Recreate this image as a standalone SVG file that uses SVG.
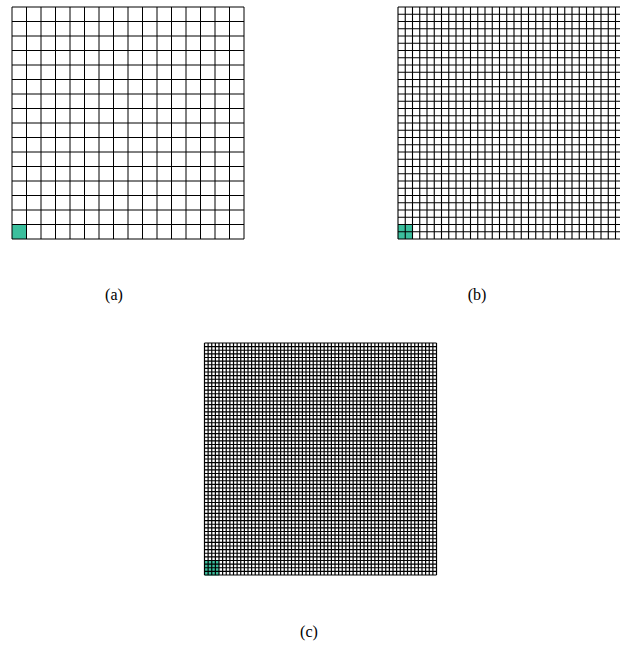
<svg xmlns="http://www.w3.org/2000/svg" width="620" height="646" viewBox="0 0 620 646">
<style>
.grid{fill:none;stroke:#000;stroke-width:1}
.gb{stroke-width:1.1}
.gc{stroke-width:1.2}
.cell{fill:#3bbf9d}
.lbl{font-family:"Liberation Serif","Times New Roman",serif;font-size:16px;fill:#000;text-anchor:middle}
</style>
<rect width="620" height="646" fill="#fff"/>
<g id="panel-a">
<rect class="cell" x="12" y="224.5" width="14.5" height="14.5"/>
<path class="grid" d="M12 7v232
m14.5 -232v232m14.5 -232v232m14.5 -232v232m14.5 -232v232m14.5 -232v232m14.5 -232v232m14.5 -232v232m14.5 -232v232
m14.5 -232v232m14.5 -232v232m14.5 -232v232m14.5 -232v232m14.5 -232v232m14.5 -232v232m14.5 -232v232m14.5 -232v232"/>
<path class="grid" d="M12 7h232
m-232 14.5h232m-232 14.5h232m-232 14.5h232m-232 14.5h232m-232 14.5h232m-232 14.5h232m-232 14.5h232m-232 14.5h232
m-232 14.5h232m-232 14.5h232m-232 14.5h232m-232 14.5h232m-232 14.5h232m-232 14.5h232m-232 14.5h232m-232 14.5h232"/>
<text class="lbl" x="114" y="300">(a)</text>
</g>
<g id="panel-b">
<rect class="cell" x="398" y="224.5" width="14.5" height="14.5"/>
<path class="grid gb" d="M398 7v232
m7.25 -232v232m7.25 -232v232m7.25 -232v232m7.25 -232v232m7.25 -232v232m7.25 -232v232m7.25 -232v232m7.25 -232v232
m7.25 -232v232m7.25 -232v232m7.25 -232v232m7.25 -232v232m7.25 -232v232m7.25 -232v232m7.25 -232v232m7.25 -232v232
m7.25 -232v232m7.25 -232v232m7.25 -232v232m7.25 -232v232m7.25 -232v232m7.25 -232v232m7.25 -232v232m7.25 -232v232
m7.25 -232v232m7.25 -232v232m7.25 -232v232m7.25 -232v232m7.25 -232v232m7.25 -232v232m7.25 -232v232m7.25 -232v232"/>
<path class="grid gb" d="M398 7h232
m-232 7.25h232m-232 7.25h232m-232 7.25h232m-232 7.25h232m-232 7.25h232m-232 7.25h232m-232 7.25h232m-232 7.25h232
m-232 7.25h232m-232 7.25h232m-232 7.25h232m-232 7.25h232m-232 7.25h232m-232 7.25h232m-232 7.25h232m-232 7.25h232
m-232 7.25h232m-232 7.25h232m-232 7.25h232m-232 7.25h232m-232 7.25h232m-232 7.25h232m-232 7.25h232m-232 7.25h232
m-232 7.25h232m-232 7.25h232m-232 7.25h232m-232 7.25h232m-232 7.25h232m-232 7.25h232m-232 7.25h232m-232 7.25h232"/>
<text class="lbl" x="477" y="300">(b)</text>
</g>
<g id="panel-c">
<rect class="cell" x="204.5" y="561" width="14.5" height="14.5"/>
<path class="grid gc" d="M204.5 343v232
m3.625 -232v232m3.625 -232v232m3.625 -232v232m3.625 -232v232m3.625 -232v232m3.625 -232v232m3.625 -232v232m3.625 -232v232
m3.625 -232v232m3.625 -232v232m3.625 -232v232m3.625 -232v232m3.625 -232v232m3.625 -232v232m3.625 -232v232m3.625 -232v232
m3.625 -232v232m3.625 -232v232m3.625 -232v232m3.625 -232v232m3.625 -232v232m3.625 -232v232m3.625 -232v232m3.625 -232v232
m3.625 -232v232m3.625 -232v232m3.625 -232v232m3.625 -232v232m3.625 -232v232m3.625 -232v232m3.625 -232v232m3.625 -232v232
m3.625 -232v232m3.625 -232v232m3.625 -232v232m3.625 -232v232m3.625 -232v232m3.625 -232v232m3.625 -232v232m3.625 -232v232
m3.625 -232v232m3.625 -232v232m3.625 -232v232m3.625 -232v232m3.625 -232v232m3.625 -232v232m3.625 -232v232m3.625 -232v232
m3.625 -232v232m3.625 -232v232m3.625 -232v232m3.625 -232v232m3.625 -232v232m3.625 -232v232m3.625 -232v232m3.625 -232v232
m3.625 -232v232m3.625 -232v232m3.625 -232v232m3.625 -232v232m3.625 -232v232m3.625 -232v232m3.625 -232v232m3.625 -232v232"/>
<path class="grid gc" d="M204.5 343h232
m-232 3.625h232m-232 3.625h232m-232 3.625h232m-232 3.625h232m-232 3.625h232m-232 3.625h232m-232 3.625h232m-232 3.625h232
m-232 3.625h232m-232 3.625h232m-232 3.625h232m-232 3.625h232m-232 3.625h232m-232 3.625h232m-232 3.625h232m-232 3.625h232
m-232 3.625h232m-232 3.625h232m-232 3.625h232m-232 3.625h232m-232 3.625h232m-232 3.625h232m-232 3.625h232m-232 3.625h232
m-232 3.625h232m-232 3.625h232m-232 3.625h232m-232 3.625h232m-232 3.625h232m-232 3.625h232m-232 3.625h232m-232 3.625h232
m-232 3.625h232m-232 3.625h232m-232 3.625h232m-232 3.625h232m-232 3.625h232m-232 3.625h232m-232 3.625h232m-232 3.625h232
m-232 3.625h232m-232 3.625h232m-232 3.625h232m-232 3.625h232m-232 3.625h232m-232 3.625h232m-232 3.625h232m-232 3.625h232
m-232 3.625h232m-232 3.625h232m-232 3.625h232m-232 3.625h232m-232 3.625h232m-232 3.625h232m-232 3.625h232m-232 3.625h232
m-232 3.625h232m-232 3.625h232m-232 3.625h232m-232 3.625h232m-232 3.625h232m-232 3.625h232m-232 3.625h232m-232 3.625h232"/>
<text class="lbl" x="309" y="637">(c)</text>
</g>
</svg>
